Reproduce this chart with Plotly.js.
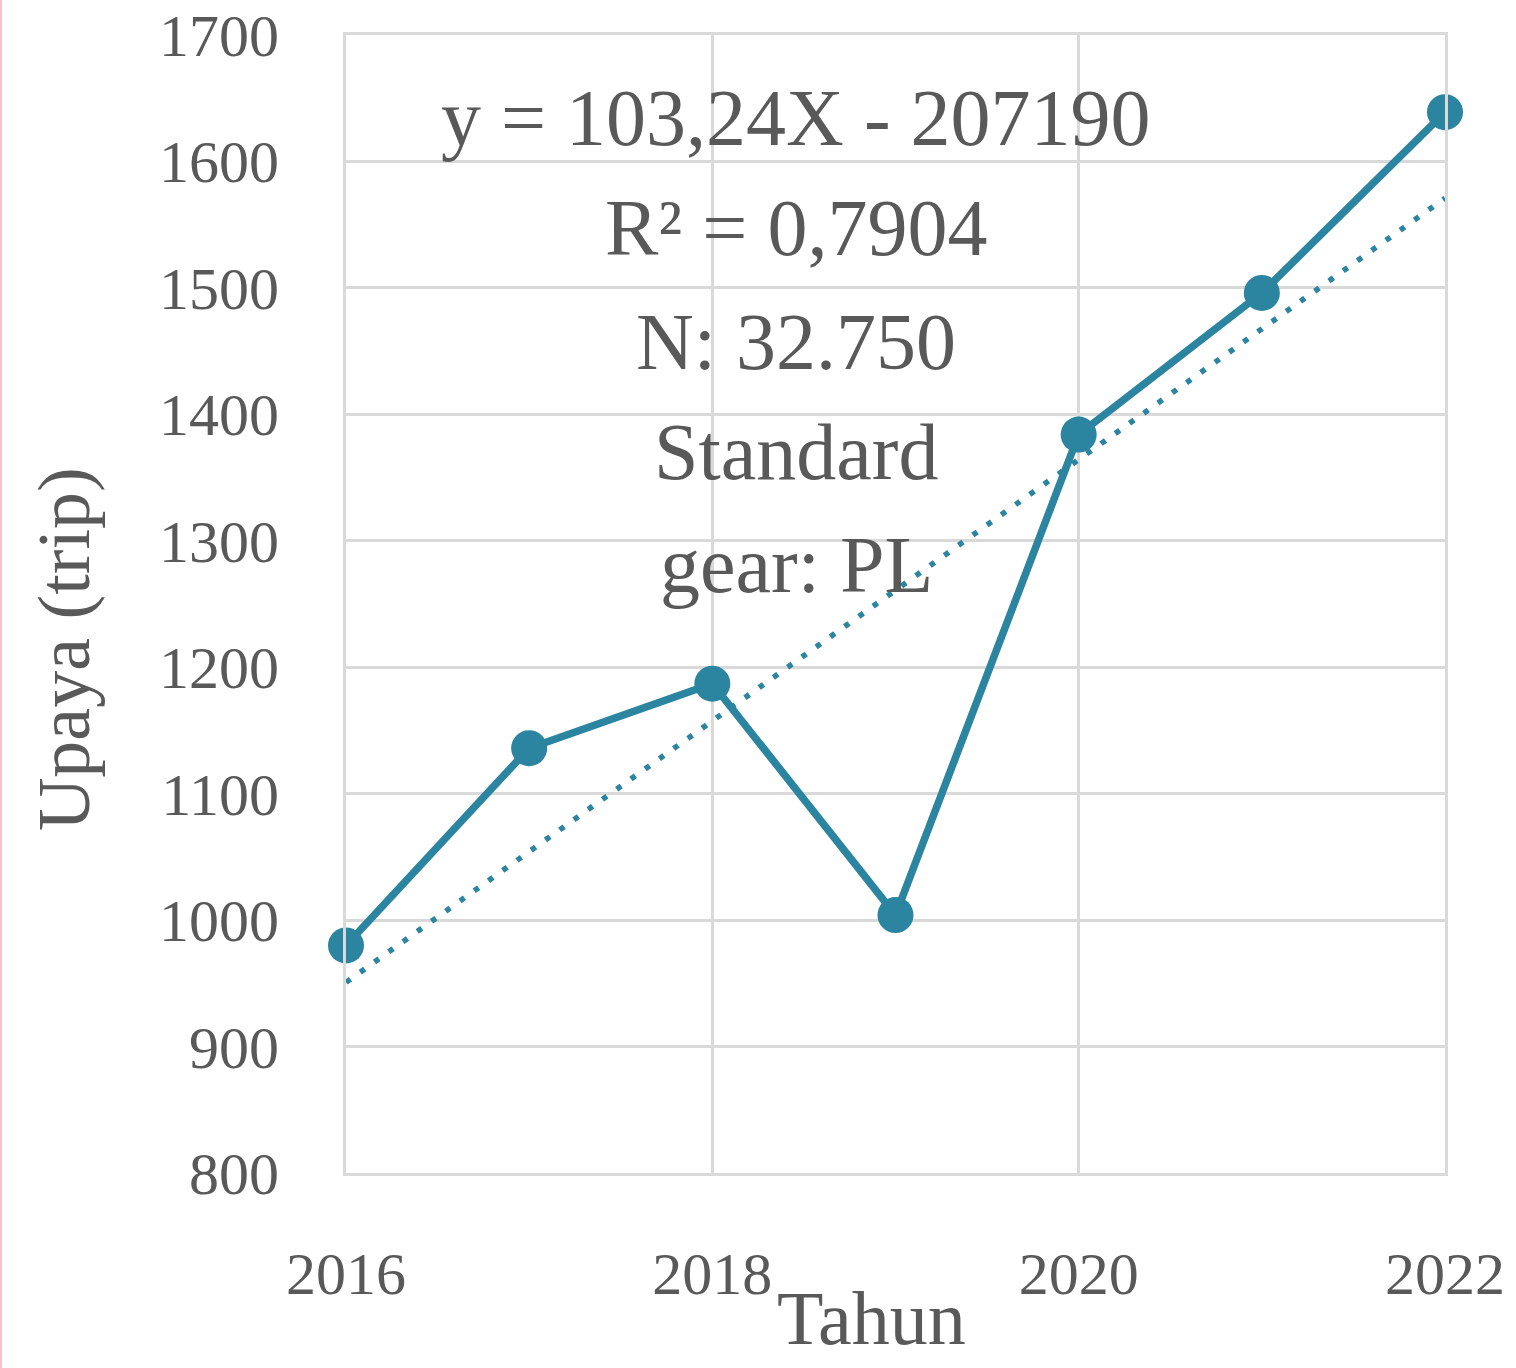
<!DOCTYPE html>
<html>
<head>
<meta charset="utf-8">
<script src="https://cdn.plot.ly/plotly-3.0.1.min.js"></script>
<style>
  html, body { margin: 0; padding: 0; background: #ffffff; }
  #chart { width: 1516px; height: 1368px; }
  #edge { position: absolute; left: 0; top: 0; width: 2px; height: 1368px; background: #f7c1c6; }
</style>
</head>
<body>
<div id="chart"></div>
<div id="edge"></div>
<script>
// Data
const years = [2016, 2017, 2018, 2019, 2020, 2021, 2022];
const effortTrips = [980, 1136, 1187, 1004, 1384, 1496, 1639];
const xTickVals = [2016, 2018, 2020, 2022];
const yTickVals = [800, 900, 1000, 1100, 1200, 1300, 1400, 1500, 1600, 1700];
const annotationLines = ["y = 103,24X - 207190", "R² = 0,7904", "N: 32.750", "Standard", "gear: PL"];
const annotationYs = [1634, 1547, 1457, 1370, 1281];

// Linear least-squares trend through the data
const n = years.length;
const mx = years.reduce((a, b) => a + b, 0) / n;
const my = effortTrips.reduce((a, b) => a + b, 0) / n;
let sxy = 0, sxx = 0;
for (let i = 0; i < n; i++) { sxy += (years[i] - mx) * (effortTrips[i] - my); sxx += (years[i] - mx) ** 2; }
const slope = sxy / sxx;
const intercept = my - slope * mx;
const trendX = [years[0], years[n - 1]];
const trendY = trendX.map(x => intercept + slope * x);

const teal = '#2b84a0';
const grey = '#595959';
const gridC = '#d9d9d9';
const fontFam = '"Liberation Serif", "DejaVu Serif", serif';

const traces = [
  {
    x: trendX, y: trendY, type: 'scatter', mode: 'lines',
    line: { color: teal, width: 5.5, dash: '5.5px,12px' },
    hoverinfo: 'skip', cliponaxis: false
  },
  {
    x: years, y: effortTrips, type: 'scatter', mode: 'lines+markers',
    line: { color: teal, width: 7.5 },
    marker: { color: teal, size: 36 },
    cliponaxis: false
  }
];

const annotations = annotationLines.map((t, i) => ({
  x: 2018.457, y: annotationYs[i], xref: 'x', yref: 'y',
  text: t, showarrow: false, xanchor: 'center', yanchor: 'middle',
  font: { family: fontFam, size: 80, color: grey }
}));
annotations.push({
  x: 0.478, y: -0.127, xref: 'paper', yref: 'paper', text: 'Tahun',
  showarrow: false, xanchor: 'center', yanchor: 'middle',
  font: { family: fontFam, size: 76, color: grey }
});
annotations.push({
  x: -0.257, y: 0.46, xref: 'paper', yref: 'paper', text: 'Upaya (trip)',
  showarrow: false, xanchor: 'center', yanchor: 'middle', textangle: -90,
  font: { family: fontFam, size: 74, color: grey }
});

const layout = {
  width: 1516, height: 1368,
  margin: { l: 346, r: 71, t: 35, b: 195 },
  paper_bgcolor: '#ffffff', plot_bgcolor: '#ffffff',
  showlegend: false,
  xaxis: {
    range: [2016, 2022], tickvals: xTickVals, ticktext: xTickVals.map(String),
    showgrid: true, gridcolor: gridC, gridwidth: 3, zeroline: false,
    showline: true, mirror: true, linecolor: gridC, linewidth: 3,
    ticks: 'outside', ticklen: 46, tickcolor: 'rgba(0,0,0,0)',
    tickfont: { family: fontFam, size: 60, color: grey }
  },
  yaxis: {
    range: [800, 1700], tickvals: yTickVals, ticktext: yTickVals.map(String),
    showgrid: true, gridcolor: gridC, gridwidth: 3, zeroline: false,
    showline: true, mirror: true, linecolor: gridC, linewidth: 3,
    ticks: 'outside', ticklen: 52, tickcolor: 'rgba(0,0,0,0)',
    tickfont: { family: fontFam, size: 60, color: grey }
  },
  annotations: annotations
};

Plotly.newPlot('chart', traces, layout, { displayModeBar: false, staticPlot: true });
</script>
</body>
</html>
